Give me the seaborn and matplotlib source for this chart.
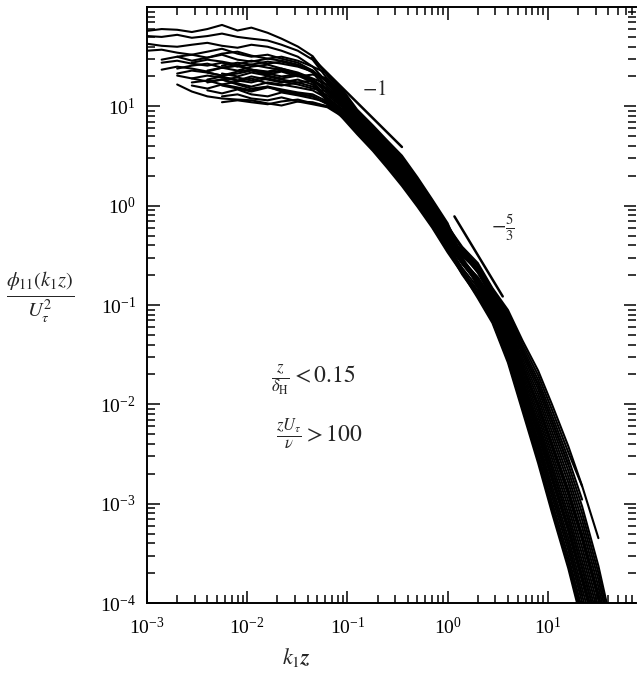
import numpy as np
import pandas as pd
import matplotlib
matplotlib.use("Agg")
import matplotlib.pyplot as plt
import seaborn as sns

# wavenumber grid k1*z shared by all spectra
KX = [0.001, 0.0014, 0.002, 0.0028, 0.004, 0.0056, 0.008, 0.011, 0.016, 0.022,
      0.032, 0.045, 0.063, 0.09, 0.125, 0.18, 0.25, 0.35, 0.5, 0.7,
      1.0, 1.4, 2.0, 2.8, 4.0, 5.6, 8.0, 11, 16, 22, 32, 45]

# phi11/U_tau^2 (first grid index in START)
run01 = [57.5, 60, 59, 56, 60, 66, 58, 62, 55, 48, 40, 32, 20.4, 14.1, 8.99, 6.21, 4.38, 3.08, 1.86, 1.12,
         0.644, 0.358, 0.2265, 0.122, 0.0618, 0.0267, 0.0115, 0.00471, 0.00163, 0.000583, 0.000146, 0.0000324]
run02 = [51, 50, 52.5, 49, 51, 54, 50, 48, 46, 41.7, 36.3, 29.5, 19, 13.2, 8.47, 5.83, 4.09, 2.86, 1.73,
         1.05, 0.6, 0.372, 0.25, 0.14, 0.0789, 0.0371, 0.01766, 0.00778, 0.00286, 0.0011]
run03 = [42.7, 40.7, 39.8, 41.7, 43.6, 40.7, 38.9, 41.7, 39.8, 36.3, 31.6, 25.1, 17.4, 12.3, 7.98, 5.48,
         3.83, 2.65, 1.61, 0.977, 0.558, 0.285, 0.1667, 0.0859, 0.0379, 0.0139, 0.00489, 0.00173, 0.000524,
         0.000164, 0.0000412]
run04 = [36.3, 37.2, 34.7, 33.1, 35.5, 38, 33.9, 31.6, 33.1, 30.2, 27.5, 22.9, 15.8, 11.5, 7.52, 5.15,
         3.58, 2.47, 1.5, 0.912, 0.52, 0.296, 0.182, 0.102, 0.0484, 0.0193, 0.0075, 0.00285, 0.000923,
         0.000309, 0.0000776]
run05 = [29.5, 31.6, 28.8, 30.9, 33.1, 29.5, 28.2, 30.2, 28.8, 26.3, 21.9, 14.6, 10.7, 7.08, 4.84, 3.35,
         2.29, 1.4, 0.851, 0.484, 0.32, 0.217, 0.133, 0.0698, 0.0315, 0.01426, 0.00605, 0.00216, 0.000802,
         0.000201, 0.0000437]
run06 = [27.5, 28.8, 26.9, 25.7, 27.5, 25.1, 26.3, 24.5, 23.4, 21.4, 17.8, 12.3, 9.3, 6.28, 4.28, 2.93,
         1.98, 1.21, 0.741, 0.42, 0.227, 0.128, 0.0721, 0.0297, 0.01, 0.00318, 0.00104, 0.000297, 0.0000867]
run07 = [24, 25.7, 26.9, 24.5, 22.9, 25.1, 26.3, 24, 21.4, 18.6, 13.5, 10, 6.67, 4.55, 3.13, 2.13, 1.3,
         0.794, 0.451, 0.285, 0.19, 0.1117, 0.0547, 0.0227, 0.00929, 0.00366, 0.00122, 0.000425, 0.000107,
         0.000024]
run08 = [21.4, 22.9, 21.9, 20.4, 22.4, 23.4, 21.4, 20, 20.9, 18.2, 15.1, 11.1, 7.29, 4.99, 3.46, 2.38,
         1.45, 0.881, 0.502, 0.345, 0.25, 0.145, 0.0838, 0.0402, 0.01966, 0.00882, 0.0033, 0.0015]
run09 = [19.1, 20.4, 19.5, 18.2, 20, 18.6, 17.4, 18.6, 16.6, 11.2, 8.7, 5.92, 4.02, 2.74, 1.84, 1.13,
         0.692, 0.391, 0.21, 0.1175, 0.066, 0.0263, 0.0085, 0.00257, 0.000813, 0.000224, 0.000063]
run10 = [17.4, 18.2, 16.6, 17.8, 19.1, 17, 16.2, 17.4, 15.8, 12.9, 9.7, 6.47, 4.41, 3.03, 2.05, 1.25,
         0.767, 0.435, 0.26, 0.1667, 0.0938, 0.0429, 0.0164, 0.00605, 0.00222, 0.000695, 0.000225, 0.0000565]
run11 = [16.6, 14.1, 12.6, 12, 11.7, 11.5, 10.7, 10.2, 11.2, 11, 10, 8.1, 5.57, 3.78, 2.56, 1.71, 1.05,
         0.646, 0.364, 0.2185, 0.14, 0.0787, 0.0336, 0.0118, 0.00394, 0.00134, 0.000394, 0.000119, 0.00003]
run12 = [22.9, 24.5, 25.7, 23.4, 22.4, 24, 21.9, 19.1, 16.6, 11.9, 7.74, 5.31, 3.7, 2.56, 1.55, 0.944,
         0.539, 0.332, 0.2207, 0.127, 0.0657, 0.029, 0.0128, 0.00534, 0.00187, 0.000684, 0.000172, 0.0000376]
run13 = [18.6, 20, 18.2, 17.4, 19.1, 17.8, 16.6, 15.1, 14.1, 10.4, 6.87, 4.69, 3.24, 2.21, 1.35, 0.822,
         0.467, 0.264, 0.1638, 0.0897, 0.0403, 0.0151, 0.00544, 0.00196, 0.000603, 0.000192, 0.0000482]
run14 = [14.5, 13.5, 14.8, 13.2, 12.6, 13.8, 12.9, 12, 11, 7.6, 5.25, 3.55, 2.4, 1.58, 0.977, 0.603,
         0.339, 0.207, 0.1305, 0.0753, 0.0316, 0.0109, 0.00354, 0.00118, 0.000342, 0.000102]
run15 = [21.4, 20, 21.9, 20.4, 19.1, 20.4, 17.4, 11.7, 9.0, 6.1, 4.15, 2.84, 1.91, 1.17, 0.716, 0.405,
         0.264, 0.182, 0.107, 0.0514, 0.0209, 0.00835, 0.00323, 0.00106, 0.000362, 0.0000909]
run16 = [16.2, 15.1, 14.1, 15.5, 14.5, 13.5, 12.6, 10.7, 8.4, 5.74, 3.9, 2.65, 1.77, 1.09, 0.668, 0.377,
         0.21, 0.125, 0.069, 0.028, 0.00923, 0.00286, 0.00092, 0.000258, 0.000074]
run17 = [25.7, 27.5, 26.3, 28.2, 26.9, 25.1, 22.4, 18.2, 12.7, 8.22, 5.66, 3.96, 2.75, 1.67, 1.01, 0.579,
         0.332, 0.211, 0.1167, 0.0581, 0.0246, 0.01034, 0.00415, 0.00141, 0.000498, 0.000125, 0.0000279]
run18 = [12.6, 13.2, 12, 11.5, 12.3, 11.2, 10.5, 9.8, 7.85, 5.41, 3.66, 2.48, 1.64, 1.01, 0.624, 0.351,
         0.2185, 0.14, 0.0822, 0.0357, 0.0128, 0.00439, 0.00152, 0.000454, 0.00014, 0.0000352]
run19 = [18.6, 19.5, 18.2, 20, 18.6, 17.4, 18.2, 14.5, 10.7, 7.08, 4.84, 3.35, 2.29, 1.4, 0.851, 0.484,
         0.332, 0.2366, 0.139, 0.0742, 0.0342, 0.01587, 0.00686, 0.00249]
run20 = [21.9, 20.4, 21.4, 22.9, 20.9, 22.4, 20, 20.9, 19.1, 13.6, 8.73, 6.02, 4.23, 2.96, 1.79, 1.08,
         0.621, 0.385, 0.265, 0.148, 0.0891, 0.0437, 0.0219, 0.01, 0.0038, 0.00151, 0.00045]
run21 = [11.0, 11.5, 11, 10.5, 11.2, 11.7, 10.7, 10, 9.3, 6.28, 4.28, 2.93, 1.98, 1.21, 0.741, 0.42,
         0.26, 0.1697, 0.098, 0.0455, 0.0178, 0.00674, 0.00251, 0.0008, 0.000264, 0.0000663]
run22 = [31.6, 33.1, 30.9, 33.9, 35.5, 32.4, 30.2, 31.6, 28.8, 25.1, 21.4, 14.6, 9.27, 6.41, 4.52, 3.19,
         1.93, 1.16, 0.667, 0.296, 0.1528, 0.0787, 0.0336, 0.0118, 0.00394, 0.00134, 0.000394, 0.000119]
run23 = [16.2, 15.1, 16.6, 15.5, 14.5, 15.8, 14.8, 13.8, 13.2, 11.2, 9.0, 6.1, 4.15, 2.84, 1.91, 1.17,
         0.716, 0.405, 0.274, 0.19, 0.1137, 0.056, 0.0235, 0.0097, 0.00385, 0.0013, 0.000452, 0.000113,
         0.0000255]
run24 = [23.4, 25.1, 24, 22.4, 24.5, 25.7, 23.4, 21.9, 22.9, 20.9, 18.6, 14.8, 10.4, 6.87, 4.69, 3.24,
         2.21, 1.35, 0.822, 0.467, 0.308, 0.2265, 0.139, 0.0742, 0.0342, 0.01587, 0.00686, 0.00249, 0.00094,
         0.000236, 0.0000507]
run25 = [17.4, 18.6, 17, 15.8, 17.4, 16.6, 15.5, 14.5, 12, 8.7, 5.92, 4.02, 2.74, 1.84, 1.13, 0.692,
         0.391, 0.236, 0.15, 0.0874, 0.0389, 0.0144, 0.0051, 0.00182, 0.000554, 0.000174, 0.0000437]
run26 = [27.5, 29.5, 28.2, 26.3, 28.8, 26.9, 28.2, 25.7, 22.9, 17.4, 11.5, 7.52, 5.15, 3.58, 2.47, 1.5,
         0.912, 0.52, 0.285, 0.174, 0.0938, 0.0429, 0.0164, 0.00605, 0.00222, 0.000695, 0.000225, 0.0000565]
run27 = [20.4, 19.1, 17.8, 18.6, 16.6, 15.1, 15.8, 14.1, 13.2, 12.6, 10.5, 8.1, 5.57, 3.78, 2.56, 1.71,
         1.05, 0.646, 0.364, 0.2025, 0.1227, 0.069, 0.028, 0.00923, 0.00286, 0.00092, 0.000258, 0.000074]

RUNS = [run01, run02, run03, run04, run05, run06, run07, run08, run09, run10, run11,
        run12, run13, run14, run15, run16, run17, run18, run19, run20, run21, run22,
        run23, run24, run25, run26, run27]
START = [0, 0, 0, 0, 1, 1, 2, 2, 3, 3, 2, 4, 4, 4, 5, 5, 5, 5, 5, 4, 5, 2,
         3, 1, 4, 3, 2]

# reference slopes -1 and -5/3
slope1_x = [0.044, 0.35]
slope1_y = [31, 3.9]
slope53_x = [1.17, 3.55]
slope53_y = [0.78, 0.122]

# long table for seaborn
rows = []
for n, (ys, s) in enumerate(zip(RUNS, START)):
    for k, y in zip(KX[s:s + len(ys)], ys):
        rows.append((n, k, y))
df = pd.DataFrame(rows, columns=["run", "k1z", "phi"])

sns.set_theme(style="ticks")
plt.rcParams["font.family"] = ["Liberation Serif", "DejaVu Serif"]
plt.rcParams["mathtext.fontset"] = "stix"

fig = plt.figure(figsize=(6.37, 6.74), dpi=100)
ax = fig.add_axes([0.2308, 0.1053, 0.7677, 0.8843])

sns.lineplot(data=df, x="k1z", y="phi", units="run", estimator=None,
             color="black", lw=1.5, legend=False, ax=ax, sort=False)
sns.lineplot(x=slope1_x, y=slope1_y, color="black", lw=1.8, ax=ax)
sns.lineplot(x=slope53_x, y=slope53_y, color="black", lw=1.8, ax=ax)

ax.set(xscale="log", yscale="log", xlim=(1e-3, 76), ylim=(1e-4, 100))
ax.set_xticks([1e-3, 1e-2, 1e-1, 1e0, 1e1])
ax.set_yticks([1e-4, 1e-3, 1e-2, 1e-1, 1e0, 1e1])
ax.tick_params(which="both", direction="in", top=True, right=True,
               labelsize=14, colors="black", width=1.1)
ax.tick_params(which="major", length=9)
ax.tick_params(which="minor", length=6)
ax.tick_params(axis="x", pad=10)
ax.tick_params(axis="y", pad=8)
for side in ["left", "bottom", "top"]:
    ax.spines[side].set_linewidth(1.4)
    ax.spines[side].set_color("black")
ax.spines["right"].set_visible(False)
ax.set_xlabel("")
ax.set_ylabel("")

ax.text(0.14, 14.5, r"$-1$", fontsize=15, va="center")
ax.text(2.7, 0.6, r"$-\frac{5}{3}$", fontsize=15, va="center")
ax.text(0.34, 0.374, r"$\frac{z}{\delta_{\rm H}} < 0.15$", transform=ax.transAxes,
        fontsize=17, ha="center", va="center")
ax.text(0.352, 0.285, r"$\frac{zU_\tau}{\nu} > 100$", transform=ax.transAxes,
        fontsize=17, ha="center", va="center")

fig.text(0.063, 0.558, r"$\frac{\phi_{11}(k_1 z)}{U_\tau^2}$", fontsize=21,
         ha="center", va="center")
fig.text(0.466, 0.024, r"$\boldsymbol{k_1 z}$", fontsize=16, ha="center", va="center")

fig.savefig("out.png", dpi=100)
